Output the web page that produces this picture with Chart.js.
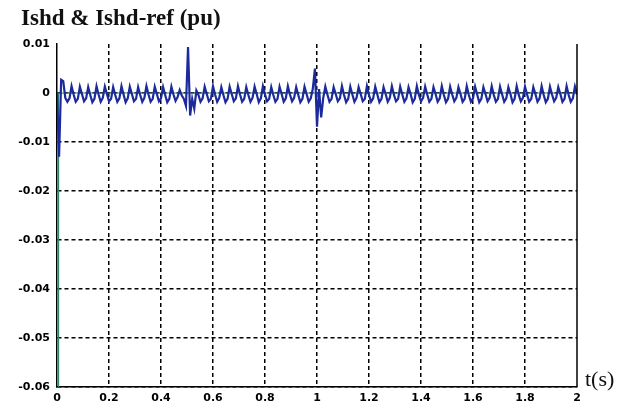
<!DOCTYPE html>
<html><head><meta charset="utf-8">
<script src="https://cdn.jsdelivr.net/npm/chart.js@4/dist/chart.umd.min.js"></script>
<style>html,body{margin:0;padding:0;background:#fff;}#wrap{width:617px;height:406px;position:relative;}</style>
</head><body>
<div id="wrap"><canvas id="c" width="617" height="406"></canvas></div>
<script>
const chartTitle = "Ishd & Ishd-ref (pu)";
const xAxisLabel = "t(s)";
const xTickValues = [0, 0.2, 0.4, 0.6, 0.8, 1, 1.2, 1.4, 1.6, 1.8, 2];
const xTickLabels = ["0", "0.2", "0.4", "0.6", "0.8", "1", "1.2", "1.4", "1.6", "1.8", "2"];
const yTickValues = [0.01, 0, -0.01, -0.02, -0.03, -0.04, -0.05, -0.06];
const yTickLabels = ["0.01", "0", "-0.01", "-0.02", "-0.03", "-0.04", "-0.05", "-0.06"];

// Ishd-ref (green): breakpoints
const ishdRefT = [0.006, 0.006, 2];
const ishdRefV = [-0.06, 0, 0];

// Ishd (blue): samples every 8 ms from t = 0 to t = 2 s
const ishdStep = 0.008;
const ishdV = [
 0, -0.0130, 0.0027, 0.0024, -0.0010, -0.0018, -0.0011, 0.0014,
 -0.0003, -0.0018, -0.0012, 0.0013, -0.0002, -0.0017, -0.0011, 0.0012,
 -0.0004, -0.0019, -0.0012, 0.0014, -0.0003, -0.0018, -0.0010, 0.0013,
 -0.0002, -0.0017, -0.0012, 0.0012, -0.0004, -0.0018, -0.0011, 0.0014,
 -0.0003, -0.0019, -0.0011, 0.0013, -0.0002, -0.0017, -0.0012, 0.0012,
 -0.0004, -0.0018, -0.0010, 0.0014, -0.0003, -0.0018, -0.0012, 0.0013,
 -0.0002, -0.0017, -0.0011, 0.0012, -0.0004, -0.0019, -0.0012, 0.0013,
 -0.0003, -0.0016, -0.0008, 0.0006, -0.0005, -0.0012, -0.0026, 0.0094,
 -0.0046, -0.0012, -0.0032, 0.0005, -0.0004, -0.0018, -0.0011, 0.0013,
 -0.0002, -0.0017, -0.0012, 0.0014, -0.0003, -0.0018, -0.0010, 0.0012,
 -0.0004, -0.0019, -0.0012, 0.0013, -0.0002, -0.0017, -0.0011, 0.0014,
 -0.0003, -0.0018, -0.0012, 0.0012, -0.0004, -0.0018, -0.0010, 0.0013,
 -0.0002, -0.0019, -0.0011, 0.0014, -0.0003, -0.0017, -0.0012, 0.0012,
 -0.0004, -0.0018, -0.0012, 0.0013, -0.0002, -0.0018, -0.0011, 0.0014,
 -0.0003, -0.0017, -0.0010, 0.0012, -0.0004, -0.0019, -0.0012, 0.0013,
 -0.0002, -0.0018, -0.0011, 0.0009, 0.0050, -0.0069, 0.0008, -0.0050,
 -0.0010, 0.0013, -0.0003, -0.0018, -0.0012, 0.0012, -0.0002, -0.0017,
 -0.0011, 0.0014, -0.0004, -0.0019, -0.0012, 0.0013, -0.0003, -0.0018,
 -0.0010, 0.0012, -0.0002, -0.0017, -0.0012, 0.0014, -0.0004, -0.0018,
 -0.0011, 0.0013, -0.0003, -0.0019, -0.0012, 0.0012, -0.0002, -0.0018,
 -0.0010, 0.0014, -0.0004, -0.0017, -0.0012, 0.0013, -0.0003, -0.0018,
 -0.0011, 0.0012, -0.0002, -0.0019, -0.0012, 0.0014, -0.0004, -0.0017,
 -0.0010, 0.0013, -0.0003, -0.0018, -0.0012, 0.0012, -0.0002, -0.0018,
 -0.0011, 0.0014, -0.0004, -0.0019, -0.0012, 0.0013, -0.0003, -0.0017,
 -0.0010, 0.0012, -0.0002, -0.0018, -0.0012, 0.0014, -0.0004, -0.0018,
 -0.0011, 0.0013, -0.0003, -0.0019, -0.0012, 0.0012, -0.0002, -0.0017,
 -0.0010, 0.0014, -0.0004, -0.0018, -0.0012, 0.0013, -0.0003, -0.0018,
 -0.0011, 0.0012, -0.0002, -0.0019, -0.0012, 0.0014, -0.0004, -0.0017,
 -0.0010, 0.0013, -0.0003, -0.0018, -0.0012, 0.0012, -0.0002, -0.0018,
 -0.0011, 0.0014, -0.0004, -0.0019, -0.0012, 0.0013, -0.0003, -0.0017,
 -0.0010, 0.0012, -0.0002, -0.0018, -0.0012, 0.0014, -0.0004, -0.0018,
 -0.0011, 0.0013, -0.0003
];

const ishdPoints = ishdV.map((v, i) => ({ x: +(i * ishdStep).toFixed(4), y: v }));
const refPoints = ishdRefT.map((t, i) => ({ x: t, y: ishdRefV[i] }));

function labelFor(values, labels, v) {
  for (let i = 0; i < values.length; i++) if (Math.abs(values[i] - v) < 1e-9) return labels[i];
  return "";
}

const decor = {
  id: "decor",
  afterDraw(chart) {
    const { ctx, chartArea: a } = chart;
    ctx.save();
    ctx.strokeStyle = "#000";
    ctx.lineWidth = 1.5;
    ctx.beginPath();
    ctx.moveTo(a.right, a.top);
    ctx.lineTo(a.right, a.bottom);
    ctx.stroke();
    ctx.fillStyle = "#111";
    ctx.textBaseline = "alphabetic";
    ctx.textAlign = "left";
    ctx.font = 'bold 23px "Liberation Serif"';
    ctx.fillText(chartTitle, 21, 25);
    ctx.font = '22px "Liberation Serif"';
    ctx.fillText(xAxisLabel, 585, 386);
    ctx.restore();
  }
};

const tickFont = { family: "'DejaVu Sans'", size: 11, weight: "bold" };

new Chart(document.getElementById("c"), {
  type: "line",
  data: {
    datasets: [
      { label: "Ishd", data: ishdPoints, borderColor: "#1c2a9c", borderWidth: 2.2, pointRadius: 0, tension: 0, order: 1 },
      { label: "Ishd-ref", data: refPoints, borderColor: "#2f8a6c", borderWidth: 1.2, pointRadius: 0, tension: 0, order: 2 }
    ]
  },
  options: {
    responsive: false,
    animation: false,
    devicePixelRatio: 1,
    layout: { padding: { top: 44, right: 40, left: 0, bottom: 0 } },
    plugins: { legend: { display: false }, tooltip: { enabled: false }, title: { display: false } },
    scales: {
      x: {
        type: "linear", min: 0, max: 2,
        afterFit(s) { s.height = 19; },
        afterBuildTicks(s) { s.ticks = xTickValues.map(v => ({ value: v })); },
        ticks: {
          padding: 5, color: "#000", maxRotation: 0, autoSkip: false, font: tickFont,
          callback: v => labelFor(xTickValues, xTickLabels, v)
        },
        grid: {
          drawTicks: false, lineWidth: 1.5,
          color: c => (c.tick && (Math.abs(c.tick.value) < 1e-9 || Math.abs(c.tick.value - 2) < 1e-9)) ? "rgba(0,0,0,0)" : "#000"
        },
        border: { display: true, color: "#000", width: 1.5, dash: [4, 3] }
      },
      y: {
        type: "linear", min: -0.06, max: 0.01,
        afterFit(s) { s.width = 57; },
        afterBuildTicks(s) { s.ticks = yTickValues.map(v => ({ value: v })); },
        ticks: {
          padding: 7, color: "#000", autoSkip: false, font: tickFont,
          callback: v => labelFor(yTickValues, yTickLabels, v)
        },
        grid: {
          drawTicks: false, lineWidth: 1.5,
          color: c => (c.tick && Math.abs(c.tick.value - 0.01) < 1e-9) ? "rgba(0,0,0,0)" : "#000"
        },
        border: { display: true, color: "#000", width: 1.5, dash: [4, 3] }
      }
    }
  },
  plugins: [decor]
});
</script>
</body></html>
